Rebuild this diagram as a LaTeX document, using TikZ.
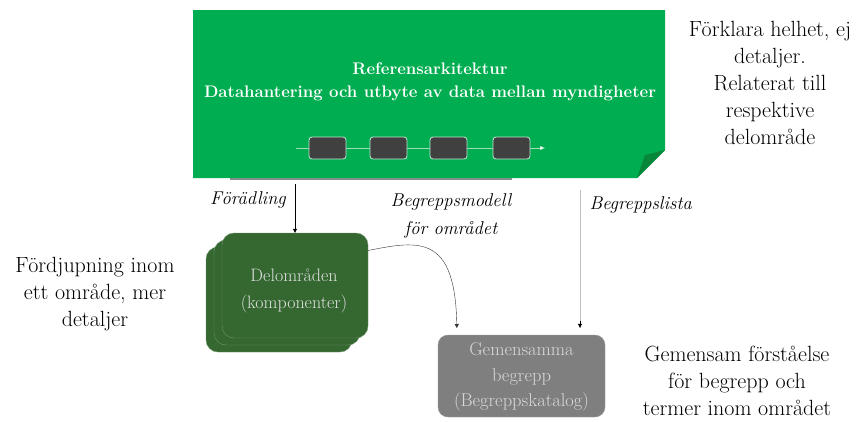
\documentclass[tikz,border=0pt]{standalone}
\usepackage{fontspec}
\usetikzlibrary{positioning, calc, arrows.meta, shadows}
\definecolor{archgreen}{RGB}{0,173,80}
\definecolor{foldgreen}{RGB}{8,135,58}
\definecolor{delgreen}{RGB}{53,104,49}
\definecolor{boxdark}{RGB}{64,64,64}
\definecolor{gemgray}{RGB}{127,127,127}

\begin{document}
\begin{tikzpicture}[x=1pt, y=-1pt,
	txt/.style={align=center, font=\fontsize{22}{27}\selectfont},
	lbl/.style={align=center, font=\fontsize{18.5}{28}\selectfont\itshape},
	stepbox/.style={draw=white!75!archgreen, fill=boxdark, rounded corners=3pt, minimum width=37pt, minimum height=22pt, line width=0.8pt},
	tip/.style={-{Triangle[length=4pt, width=4pt]}, thin}]
\useasboundingbox (0,0) rectangle (856,421);
\fill[black!45] (230,176) rectangle (512,180);
\fill[archgreen] (193,10) -- (665,10) -- (665,150) -- (637,178) -- (193,178) -- cycle;
\fill[foldgreen] (637,178) -- (645,155) -- (665,150) -- cycle;
\node[minimum width=472pt, minimum height=168pt, inner sep=0] (arch) at (429,94) {};
\node[align=center, text=white, font=\fontsize{16.8}{23}\selectfont\bfseries] (title) at (430,82) {Referensarkitektur\\Datahantering och utbyte av data mellan myndigheter};
\foreach \n/\x in {1/327.5, 2/388.5, 3/448.5, 4/511.5}
	\node[stepbox] (p\n) at (\x,148) {};
\coordinate (pin) at (296,148);
\coordinate (pout) at (545,148);
\draw[white!60!archgreen] (pin) -- (p1) (p1) -- (p2) (p2) -- (p3) (p3) -- (p4);
\draw[white!60!archgreen, -{Triangle[length=5pt, width=4pt, fill=white]}] (p4) -- (pout);

\node[txt] (why) at (770,83) {Förklara helhet, ej\\detaljer.\\Relaterat till\\respektive\\delområde};

\node[fill=delgreen, draw=delgreen!70!white, rounded corners=12pt, minimum width=146pt, minimum height=105pt,
	double copy shadow={shadow xshift=-8pt, shadow yshift=-7pt, draw=delgreen!70!white}] (del) at (295,285.5) {};
\node[text=white!88!black, align=center, font=\fontsize{18}{26.5}\selectfont] (deltxt) at (294,291) {Delområden\\(komponenter)};
\node[txt] (deep) at (95,294) {Fördjupning inom\\ett område, mer\\detaljer};

\node[fill=gemgray, draw=gemgray!80!white, rounded corners=10pt, minimum width=167pt, minimum height=82pt] (gem) at (521.5,376) {};
\node[text=white!85!black, align=center, font=\fontsize{18.5}{25.5}\selectfont] (gemtxt) at (521.5,377) {Gemensamma\\begrepp\\(Begreppskatalog)};
\node[txt] (common) at (737,381) {Gemensam förståelse\\för begrepp och\\termer inom området};

\draw[tip, shorten <=6pt] (del.north |- arch.south) -- (del.north);
\node[lbl] (forad) at (248,200) {Förädling};

\coordinate (bl) at (580,178);
\draw[black!25, shorten <=12pt, shorten >=7pt] (bl) -- (bl |- gem.north);
\draw[tip, shorten >=7pt] ($(bl |- gem.north)+(0,-14)$) -- (bl |- gem.north);
\node[lbl, anchor=west] (blista) at (586,205) {Begreppslista};

\coordinate (bm) at (457,335);
\draw[tip, black!80, shorten >=7pt] ($(del.east)+(0,-35)$) .. controls (420,240) and (455,235) .. (bm);
\node[lbl] (bmod) at (451,216) {Begreppsmodell\\för området};
\end{tikzpicture}
\end{document}
